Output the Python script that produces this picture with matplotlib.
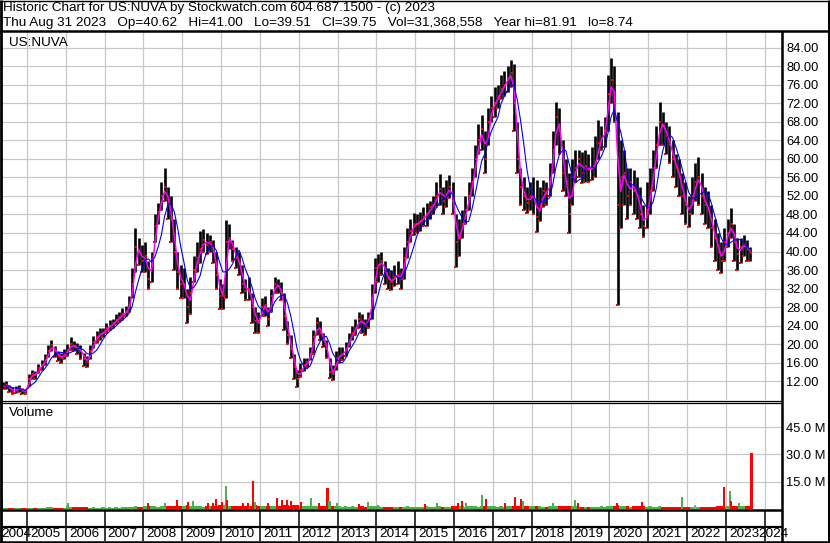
import numpy as np
import pandas as pd
import matplotlib
matplotlib.use("Agg")
import matplotlib.pyplot as plt

plt.rcParams["font.family"] = ["Liberation Sans", "DejaVu Sans"]

W, H = 830, 543

# ---- monthly price bars, May 2004 .. Aug 2023 ----
start_year, start_month = 2004, 5

close = [
    11.0, 11.2, 10.5, 9.8, 10.2, 10.6, 9.9, 9.8,                          # 2004
    12.5, 13.6, 13.3, 14.8, 15.5, 16.5, 18.5, 19.8, 18.5, 17.5, 17.0, 17.8,  # 2005
    18.8, 20.0, 19.5, 19.0, 18.5, 16.8, 16.2, 18.5, 20.5, 21.5, 22.3, 22.5,  # 2006
    23.5, 24.0, 24.5, 25.2, 25.8, 26.5, 27.0, 28.5, 33.0, 41.0, 40.0, 38.0,  # 2007
    39.0, 34.0, 37.5, 45.5, 48.5, 52.0, 54.0, 50.0, 47.0, 40.0, 35.5, 33.0,  # 2008
    33.0, 28.0, 31.0, 36.0, 38.5, 40.5, 42.5, 41.5, 42.0, 40.0, 35.0, 30.5,  # 2009
    30.5, 42.0, 43.0, 40.5, 38.5, 37.5, 33.0, 31.5, 32.0, 28.0, 25.0, 24.5,  # 2010
    28.0, 28.5, 25.5, 30.5, 33.0, 32.5, 31.0, 26.0, 22.0, 19.0, 15.0, 12.5,  # 2011
    14.5, 15.5, 16.0, 18.0, 21.5, 24.5, 22.5, 21.0, 19.0, 14.0, 13.5, 17.0,  # 2012
    17.5, 18.0, 19.0, 21.0, 22.5, 23.5, 25.5, 24.5, 24.0, 25.5, 30.0, 36.5,  # 2013
    37.0, 38.0, 35.5, 34.0, 33.5, 34.5, 35.0, 34.0, 38.5, 42.0, 44.5, 46.0,  # 2014
    46.0, 46.5, 47.5, 48.0, 49.5, 50.0, 52.0, 53.5, 51.0, 52.5, 54.0, 51.0,  # 2015
    42.0, 43.5, 46.0, 49.0, 52.0, 55.0, 60.0, 64.0, 66.5, 60.0, 68.0, 71.0,  # 2016
    72.0, 73.5, 75.0, 76.0, 77.5, 78.5, 72.0, 60.0, 54.0, 52.0, 50.5, 52.0,  # 2017
    52.0, 47.5, 50.0, 53.0, 52.5, 55.0, 62.0, 69.0, 66.0, 57.0, 55.0, 48.0,  # 2018
    56.0, 58.0, 60.0, 57.0, 58.5, 57.5, 58.0, 59.0, 63.5, 64.5, 66.0, 74.0,  # 2019
    77.0, 72.0, 50.0, 56.0, 57.0, 52.0, 55.0, 53.0, 52.0, 48.0, 45.5, 49.0,  # 2020
    53.0, 58.0, 63.0, 68.0, 67.0, 65.0, 63.0, 60.0, 58.0, 56.0, 52.0, 50.0,  # 2021
    48.0, 52.0, 55.0, 56.0, 52.0, 50.0, 49.0, 45.0, 43.0, 40.0, 38.0, 42.0,  # 2022
    44.0, 46.0, 42.0, 39.5, 41.0, 41.5, 40.5, 39.75,                        # 2023
]

high = [
    11.8, 12.0, 11.3, 10.8, 11.0, 11.3, 10.6, 10.4,
    13.5, 14.5, 14.2, 15.8, 16.5, 17.8, 19.8, 20.9, 19.6, 18.6, 18.2, 19.0,
    20.0, 21.5, 20.8, 20.2, 19.8, 18.2, 17.5, 19.8, 21.8, 22.8, 23.5, 23.5,
    24.5, 25.2, 25.5, 26.5, 27.0, 27.8, 28.3, 30.5, 36.5, 45.0, 43.0, 41.5,
    42.0, 38.0, 40.0, 48.0, 50.5, 55.0, 58.0, 54.0, 52.0, 47.0, 40.0, 37.0,
    36.5, 32.0, 34.5, 39.0, 42.0, 44.5, 44.8, 44.0, 43.5, 42.5, 40.0, 34.0,
    33.0, 46.7, 46.0, 42.5, 41.0, 40.0, 37.0, 34.0, 34.5, 31.0, 28.0, 27.0,
    30.0, 30.5, 28.0, 32.0, 34.6, 34.0, 33.5, 31.0, 25.0, 22.0, 18.0, 14.5,
    16.0, 17.0, 17.0, 19.5, 23.0, 25.9, 25.0, 22.5, 21.0, 17.0, 15.5, 18.5,
    19.4, 19.5, 20.5, 22.5, 24.0, 25.5, 26.9, 26.5, 25.5, 27.0, 33.0, 38.5,
    39.5, 39.9, 38.0, 36.5, 36.0, 37.0, 38.0, 36.5, 41.0, 45.0, 47.0, 48.3,
    48.0, 48.5, 49.5, 50.5, 51.0, 52.0, 55.0, 56.8, 54.0, 55.5, 56.5, 55.0,
    48.0, 47.0, 49.0, 52.0, 55.0, 58.0, 63.0, 67.5, 69.4, 66.0, 71.0, 73.5,
    75.5, 76.0, 78.0, 79.0, 80.0, 81.3, 80.5, 68.0, 58.0, 56.0, 54.0, 55.0,
    56.0, 55.4, 54.0, 55.5, 55.0, 59.0, 66.0, 72.3, 71.0, 64.0, 60.0, 57.0,
    60.0, 62.0, 62.0, 61.5, 62.0, 61.0, 62.6, 65.0, 68.4, 67.0, 69.0, 78.0,
    81.7, 80.0, 70.0, 64.0, 62.0, 58.0, 58.0, 57.5, 56.0, 54.0, 50.0, 55.0,
    58.0, 62.0, 67.0, 72.3, 70.0, 68.0, 67.0, 64.0, 61.0, 60.0, 57.0, 55.0,
    52.0, 56.0, 59.0, 60.4, 57.0, 54.0, 53.0, 50.0, 47.0, 44.0, 42.0, 45.0,
    47.0, 49.4, 46.0, 43.0, 43.0, 43.5, 42.5, 41.0,
]

low = [
    10.3, 10.4, 9.6, 9.2, 9.5, 9.8, 9.2, 9.3,
    11.0, 12.6, 12.5, 13.7, 14.5, 15.5, 17.3, 18.6, 17.3, 16.3, 16.0, 16.8,
    17.5, 18.8, 18.5, 17.8, 16.8, 15.2, 15.0, 16.8, 19.2, 20.3, 21.0, 21.5,
    22.5, 23.0, 23.5, 24.3, 24.8, 25.3, 26.0, 27.0, 30.0, 35.5, 37.0, 35.5,
    35.5, 32.0, 33.5, 42.0, 46.0, 49.0, 51.0, 47.0, 42.0, 36.0, 32.0, 30.0,
    30.0, 24.5, 26.5, 33.5, 35.5, 37.5, 40.0, 39.5, 40.0, 37.5, 32.0, 27.5,
    27.5, 30.0, 40.5, 38.0, 36.5, 35.0, 31.0, 29.5, 29.5, 24.5, 22.5, 22.4,
    26.0, 26.0, 24.0, 27.0, 31.0, 31.0, 29.5, 23.0, 20.0, 17.0, 12.5, 10.8,
    13.0, 14.3, 15.0, 16.5, 18.0, 22.0, 21.0, 19.5, 17.0, 12.8, 12.3, 14.5,
    16.0, 16.5, 17.5, 19.5, 21.0, 22.0, 23.5, 22.5, 22.0, 23.5, 25.5, 31.0,
    33.5, 35.0, 33.0, 32.0, 31.8, 32.5, 33.0, 32.0, 34.0, 38.5, 42.0, 43.5,
    44.0, 44.5, 45.5, 45.5, 47.0, 48.0, 49.5, 50.0, 48.0, 49.5, 51.5, 48.0,
    36.6, 39.0, 43.0, 46.0, 49.0, 52.0, 56.0, 61.0, 62.0, 57.0, 63.0, 68.0,
    69.0, 71.0, 73.0, 73.5, 74.5, 75.5, 66.0, 57.0, 50.0, 49.0, 48.3, 49.0,
    48.0, 44.3, 46.5, 49.5, 50.0, 52.0, 57.0, 63.0, 61.0, 53.0, 52.0, 44.0,
    50.0, 55.0, 56.0, 54.7, 55.0, 55.0, 55.4, 56.0, 60.0, 62.0, 62.6, 66.0,
    72.0, 68.0, 28.4, 45.0, 50.0, 47.0, 50.0, 48.0, 47.0, 45.0, 43.2, 45.0,
    48.0, 53.0, 58.0, 63.0, 63.0, 61.0, 59.0, 56.0, 54.0, 52.0, 48.0, 46.0,
    45.3, 48.0, 51.0, 50.0, 48.0, 46.0, 45.0, 41.0, 38.0, 36.0, 35.3, 38.0,
    41.0, 43.0, 38.0, 36.0, 37.5, 39.0, 38.0, 38.0,
]

# typical volume level per month (millions)
volume = [
    0.8, 0.6, 0.6, 0.5, 0.5, 0.6, 0.5, 0.5,
    0.6, 0.7, 0.6, 0.6, 0.7, 0.8, 0.9, 1.0, 0.8, 0.7, 0.7, 0.8,
    1.6, 1.2, 1.0, 1.1, 0.9, 1.0, 0.9, 0.8, 0.9, 0.8, 0.8, 0.9,
    0.8, 0.9, 0.8, 0.9, 0.8, 0.9, 1.0, 1.1, 1.2, 1.4, 1.2, 1.2,
    1.5, 1.8, 1.4, 1.6, 1.3, 1.5, 1.8, 1.4, 1.6, 1.9, 1.6, 1.4,
    1.6, 2.0, 1.8, 1.5, 1.4, 1.4, 1.3, 1.4, 1.5, 1.6, 1.9, 2.1,
    2.0, 2.4, 1.9, 1.6, 1.5, 1.8, 1.6, 1.4, 1.5, 1.8, 2.0, 1.9,
    1.6, 1.8, 1.5, 1.6, 1.9, 1.6, 1.8, 2.2, 2.0, 1.9, 2.3, 2.1,
    1.8, 1.6, 1.4, 1.5, 1.8, 1.9, 1.6, 1.5, 1.8, 1.9, 1.6, 1.5,
    1.4, 1.2, 1.4, 1.2, 1.4, 1.1, 1.2, 1.4, 1.2, 1.5, 1.8, 1.6,
    1.4, 1.2, 1.1, 1.1, 1.0, 1.1, 1.0, 1.1, 1.2, 1.4, 1.2, 1.1,
    1.2, 1.1, 1.2, 1.4, 1.2, 1.1, 1.2, 1.4, 1.2, 1.1, 1.2, 1.4,
    1.8, 1.5, 1.4, 1.2, 1.4, 1.5, 1.4, 1.2, 1.4, 1.6, 1.5, 1.4,
    1.4, 1.2, 1.4, 1.2, 1.4, 1.5, 1.8, 1.9, 1.6, 1.5, 1.4, 1.5,
    1.5, 1.6, 1.4, 1.2, 1.2, 1.4, 1.5, 1.6, 1.4, 1.5, 1.6, 1.8,
    1.5, 1.4, 1.2, 1.2, 1.1, 1.1, 1.1, 1.2, 1.2, 1.4, 1.2, 1.4,
    1.5, 1.4, 2.2, 1.8, 1.5, 1.4, 1.2, 1.4, 1.5, 1.4, 1.4, 1.2,
    1.4, 1.2, 1.2, 1.4, 1.2, 1.1, 1.1, 1.1, 1.2, 1.1, 1.1, 1.2,
    1.2, 1.1, 1.1, 1.2, 1.1, 1.0, 1.1, 1.1, 1.2, 1.4, 1.4, 1.2,
    1.5, 1.6, 1.8, 1.4, 1.5, 1.4, 1.4, 1.5,
]

# single-day volume spikes (decimal year, millions, up/down)
spike_t = [2004.35, 2006.06, 2008.12, 2008.55, 2008.86, 2009.15, 2009.28, 2009.66,
           2009.79, 2009.87, 2010.02, 2010.12, 2010.15, 2010.56, 2010.69, 2010.81,
           2010.87, 2011.21, 2011.44, 2011.57, 2011.70, 2011.80, 2012.06, 2012.31,
           2012.52, 2012.74, 2012.79, 2012.98, 2013.55, 2013.78, 2014.04, 2015.25,
           2015.56, 2016.10, 2016.20, 2016.31, 2016.72, 2016.82, 2017.31, 2017.57,
           2017.72, 2017.77, 2018.55, 2019.11, 2019.19, 2020.19, 2020.84, 2021.86,
           2022.20, 2022.95, 2023.10, 2023.12, 2023.34, 2023.66]
spike_v = [4.9, 3.5, 3.5, 3.5, 4.9, 3.7, 4.4, 3.1,
           3.5, 5.5, 4.0, 12.6, 4.9, 3.5, 3.5, 15.6,
           4.0, 3.1, 6.2, 4.9, 4.9, 4.4, 3.7, 5.9,
           3.5, 11.7, 4.4, 3.1, 2.6, 4.0, 2.2, 2.6,
           3.5, 3.5, 4.6, 3.5, 7.7, 5.5, 3.5, 6.6,
           5.5, 4.4, 3.5, 4.9, 3.5, 3.1, 3.8, 6.8,
           2.2, 12.3, 9.9, 4.6, 3.5, 30.8]
spike_up = ["g", "g", "r", "g", "r", "r", "g", "r",
            "r", "r", "r", "g", "r", "r", "r", "r",
            "g", "r", "r", "r", "r", "r", "r", "g",
            "r", "r", "g", "g", "r", "g", "g", "r",
            "g", "r", "r", "g", "g", "r", "r", "r",
            "r", "g", "g", "g", "r", "r", "r", "g",
            "n", "r", "g", "r", "g", "r"]

years = list(range(2004, 2025))
price_ticks = list(range(12, 85, 4))
vol_ticks = [15, 30, 45]

header1 = "Historic Chart for US:NUVA by Stockwatch.com 604.687.1500 - (c) 2023"
header2 = ("Thu Aug 31 2023   Op=40.62   Hi=41.00   Lo=39.51   Cl=39.75   "
           "Vol=31,368,558   Year hi=81.91   lo=8.74")

GREEN = "#4cb04c"
RED = "#ff0000"
GRID = "#c8c8c8"
FS = 9.7
FS_AX = 9.3
col_map = {"g": GREEN, "r": RED, "n": "#a0a0a0"}

# decimal-year position of each monthly bar (month centre)
n = len(close)
idx = np.arange(n) + (start_month - 1)
t = start_year + (idx + 0.5) / 12.0

s_close = pd.Series(close)
ma_fast = s_close.rolling(2, min_periods=1).mean()
ma_slow = s_close.rolling(5, min_periods=1).mean()
vol_col = [GREEN if i == 0 or close[i] >= close[i - 1] else RED for i in range(n)]


def px_to_year(px):
    return 2005 + (px - 27) / 38.83


def box(x0, y0, x1, y1):
    return [x0 / W, 1 - y1 / H, (x1 - x0) / W, (y1 - y0) / H]


fig = plt.figure(figsize=(W / 100, H / 100), dpi=100)
fig.patch.set_facecolor("white")

xlim = (px_to_year(2), px_to_year(782))

# ---- price panel ----
ax_p = fig.add_axes(box(2, 32, 782, 400))
ax_p.set_xlim(xlim)
ax_p.set_ylim(7.97, 87.35)
for yr in years:
    ax_p.axvline(yr, color=GRID, lw=0.9, zorder=0)
for v in price_ticks:
    ax_p.axhline(v, color=GRID, lw=0.9, zorder=0)
ax_p.vlines(t, low, high, color="black", lw=1.9, zorder=2)
ax_p.plot(t + 0.02, close, ls="none", marker="s", ms=2.0, mew=0, color=RED, zorder=3)
ax_p.plot(t - 0.02, low, ls="none", marker="s", ms=1.6, mew=0, color=RED, zorder=3)
ax_p.plot(t, ma_fast, color="#ff00ff", lw=1.1, zorder=4)
ax_p.plot(t, ma_slow, color="#0000ff", lw=0.8, zorder=5)
ax_p.yaxis.tick_right()
ax_p.set_yticks(price_ticks)
ax_p.set_yticklabels([f"{v:.2f}" for v in price_ticks])
ax_p.tick_params(axis="y", length=0, pad=3, labelsize=FS_AX)
ax_p.set_xticks([])
for sp in ax_p.spines.values():
    sp.set_visible(False)
ax_p.text(0.009, 0.97, "US:NUVA", transform=ax_p.transAxes, fontsize=FS,
          va="center", ha="left")

# ---- volume panel ----
ax_v = fig.add_axes(box(2, 402, 782, 509))
ax_v.set_xlim(xlim)
ax_v.set_ylim(0, 58.8)
for yr in years:
    ax_v.axvline(yr, color=GRID, lw=0.9, zorder=0)
for v in vol_ticks:
    ax_v.axhline(v, color=GRID, lw=0.9, zorder=0)
ax_v.bar(t, volume, width=1 / 12, color=vol_col, linewidth=0, zorder=2)
ax_v.bar(spike_t, spike_v, width=0.055, color=[col_map[c] for c in spike_up],
         linewidth=0, zorder=3)
ax_v.yaxis.tick_right()
ax_v.set_yticks(vol_ticks)
ax_v.set_yticklabels([f"{v:.1f} M" for v in vol_ticks])
ax_v.tick_params(axis="y", length=0, pad=3, labelsize=FS_AX)
ax_v.set_xticks([])
for sp in ax_v.spines.values():
    sp.set_visible(False)
ax_v.text(0.009, 0.9, "Volume", transform=ax_v.transAxes, fontsize=FS,
          va="center", ha="left")

# ---- date band ----
ax_d = fig.add_axes(box(2, 510, 782, 541))
ax_d.set_xlim(xlim)
ax_d.set_ylim(0, 1)
ax_d.axis("off")
for yr in years[1:]:
    ax_d.axvline(yr, color="black", lw=1.1)
ax_d.axhline(14 / 31, color="black", lw=1.6)
for yr in years:
    if yr == 2004:
        ax_d.text(px_to_year(1), 0.22, str(yr), ha="left", va="center", fontsize=FS)
    elif yr == 2024:
        ax_d.text(px_to_year(758), 0.22, str(yr), ha="left", va="center", fontsize=FS)
    else:
        ax_d.text(yr + 3 / 38.83, 0.22, str(yr), ha="left", va="center", fontsize=FS)

# ---- frame lines ----
ov = fig.add_axes([0, 0, 1, 1], zorder=10)
ov.set_xlim(0, W)
ov.set_ylim(H, 0)
ov.axis("off")
ov.patch.set_alpha(0)
k = dict(color="black", solid_capstyle="butt")
ov.plot([0, W], [0.5, 0.5], lw=1.0, **k)
ov.plot([0, W], [31, 31], lw=1.8, **k)
ov.plot([1, 1], [0, H], lw=2.0, **k)
ov.plot([828.5, 828.5], [0, H], lw=2.2, **k)
ov.plot([0, W], [542, 542], lw=1.8, **k)
ov.plot([782, 782], [31, H], lw=1.8, **k)
ov.plot([0, 782], [400.5, 400.5], lw=0.9, **k)
ov.plot([0, 782], [402.5, 402.5], lw=0.9, **k)
ov.plot([0, 782], [510, 510], lw=1.8, **k)

ov.text(3, 7.5, header1, fontsize=FS, va="center", ha="left")
ov.text(3, 23, header2, fontsize=FS, va="center", ha="left")

fig.savefig("out.png", dpi=100)
